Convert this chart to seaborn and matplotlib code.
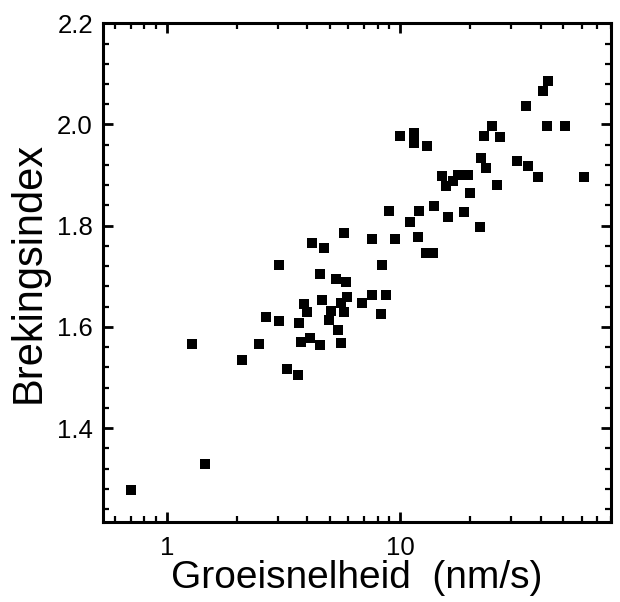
import matplotlib
matplotlib.use("Agg")
import matplotlib.pyplot as plt
from matplotlib.ticker import MultipleLocator, LogLocator, NullFormatter
import seaborn as sns
import pandas as pd

# Data
growth_rate = [0.70, 1.45, 1.28, 2.10, 2.49, 2.66, 3.02, 3.02, 3.27, 3.65,
               3.68, 3.74, 3.86, 3.98, 4.09, 4.17, 4.54, 4.52, 4.64, 4.70,
               4.94, 5.07, 5.30, 5.43, 5.55, 5.55, 5.73, 5.85, 5.91, 5.77,
               6.83, 7.54, 7.55, 8.30, 8.37, 8.74, 8.95, 9.48, 10.0, 11.0,
               11.5, 11.5, 11.9, 12.0, 13.0, 12.9, 13.9, 14.0, 15.1, 16.0,
               15.8, 16.8, 17.7, 19.5, 18.8, 19.9, 21.9, 22.3, 22.9, 23.4,
               24.8, 26.1, 26.8, 31.6, 34.5, 35.3, 39.0, 40.9, 42.9, 42.8,
               51.1, 61.7]
refr_index = [1.278, 1.330, 1.567, 1.534, 1.567, 1.620, 1.611, 1.722, 1.516, 1.505,
              1.608, 1.570, 1.645, 1.630, 1.579, 1.766, 1.564, 1.704, 1.654, 1.755,
              1.613, 1.632, 1.695, 1.593, 1.568, 1.648, 1.630, 1.688, 1.659, 1.786,
              1.648, 1.663, 1.774, 1.625, 1.722, 1.664, 1.829, 1.774, 1.978, 1.808,
              1.984, 1.964, 1.778, 1.829, 1.958, 1.747, 1.747, 1.839, 1.899, 1.818,
              1.878, 1.888, 1.900, 1.901, 1.828, 1.864, 1.798, 1.934, 1.977, 1.914,
              1.997, 1.880, 1.976, 1.928, 2.036, 1.918, 1.897, 2.066, 2.086, 1.997,
              1.997, 1.897]
x_ticks = [1, 10]
x_tick_labels = ["1", "10"]
y_ticks = [1.4, 1.6, 1.8, 2.0, 2.2]
y_tick_labels = ["1.4", "1.6", "1.8", "2.0", "2.2"]
x_label = "Groeisnelheid  (nm/s)"
y_label = "Brekingsindex"

sns.set_theme(style="ticks")
plt.rcParams["font.family"] = ["Liberation Sans", "DejaVu Sans"]
plt.rcParams["text.color"] = "black"
plt.rcParams["axes.labelcolor"] = "black"

df = pd.DataFrame({"x": growth_rate, "y": refr_index})

fig = plt.figure(figsize=(6.2, 6.02), dpi=100)
ax = fig.add_axes([0.1656, 0.1334, 0.985 - 0.1656, 0.9613 - 0.1334])

sns.scatterplot(data=df, x="x", y="y", marker="s", color="black", s=60,
                linewidth=0, ax=ax, legend=False)

ax.set_xscale("log")
ax.set_xlim(0.53, 80)
ax.set_ylim(1.215, 2.2)

ax.set_xticks(x_ticks)
ax.set_xticklabels(x_tick_labels)
ax.xaxis.set_minor_locator(LogLocator(base=10, subs=[2, 3, 4, 5, 6, 7, 8, 9]))
ax.xaxis.set_minor_formatter(NullFormatter())
ax.set_yticks(y_ticks)
ax.set_yticklabels(y_tick_labels)
ax.yaxis.set_minor_locator(MultipleLocator(0.04))

for sp in ax.spines.values():
    sp.set_visible(True)
    sp.set_linewidth(2.2)
    sp.set_color("black")

ax.tick_params(which="both", direction="in", top=True, right=True,
               colors="black", labelcolor="black", labelsize=18.5)
ax.tick_params(which="major", length=7, width=2)
ax.tick_params(which="minor", length=4, width=1.6)
ax.tick_params(axis="x", which="major", pad=10)
ax.tick_params(axis="y", which="major", pad=7)

ax.set_xlabel(x_label, fontsize=28, labelpad=0)
ax.set_ylabel(y_label, fontsize=30, labelpad=6)

fig.savefig("out.png", dpi=100, facecolor="white")
